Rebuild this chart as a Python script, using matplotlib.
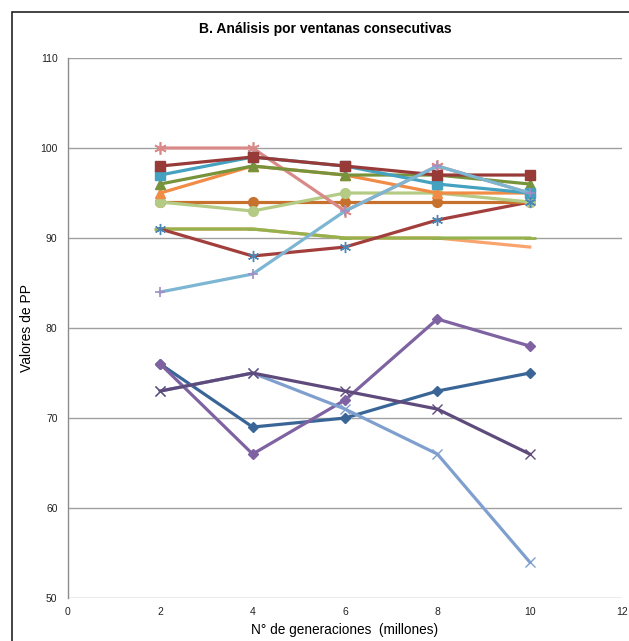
import matplotlib
matplotlib.use("Agg")
import matplotlib.pyplot as plt
from matplotlib.patches import Rectangle

plt.rcParams['font.family'] = ['Liberation Sans', 'DejaVu Sans']

generaciones = [2, 4, 6, 8, 10]

# PP values per run window
serie_azul_osc = [76, 69, 70, 73, 75]
serie_morado = [76, 66, 72, 81, 78]
serie_morado_osc = [73, 75, 73, 71, 66]
serie_azul_claro_x = [73, 75, 71, 66, 54]
serie_rosa = [100, 100, 93, 98, 95]
serie_rojo_cuad = [98, 99, 98, 97, 97]
serie_turquesa = [97, 99, 98, 96, 95]
serie_oliva = [96, 98, 97, 97, 96]
serie_naranja = [95, 98, 97, 95, 95]
serie_marron = [94, 94, 94, 94, 94]
serie_verde_claro = [94, 93, 95, 95, 94]
serie_naranja_claro = [91, 91, 90, 90, 89]
serie_verde = [91, 91, 90, 90, 90]
serie_rojo = [91, 88, 89, 92, 94]
serie_celeste = [84, 86, 93, 98, 95]

ast = (6, 2, 0)

fig = plt.figure(figsize=(6.29, 6.41), dpi=100)
ax = fig.add_axes([0.108, 0.067, 0.881, 0.8425])

lw = 2.3
ms = 6.5

def linea(vals, color, marker=None, mfc=None, mec=None, size=ms, mew=1.0, z=2):
    ax.plot(generaciones, vals, color=color, lw=lw, marker=marker,
            markersize=size, markerfacecolor=mfc or color,
            markeredgecolor=mec or color, markeredgewidth=mew, zorder=z,
            solid_joinstyle='round')

linea(serie_azul_osc, '#3A6597', 'D', size=5.5)
linea(serie_morado, '#7E62A1', 'D', size=5.5)
linea(serie_azul_claro_x, '#7F9FCF', 'x', size=7)
linea(serie_morado_osc, '#5F4A7C', 'x', size=7)

linea(serie_naranja_claro, '#F9A46E', None)
linea(serie_verde, '#95B24F', '_', size=8, mew=2)
linea(serie_rojo, '#A23F3C', None)
ax.plot(generaciones, serie_rojo, linestyle='none', marker=ast, markersize=8,
        markeredgecolor='#4C85B5', markeredgewidth=1.0, zorder=3)
linea(serie_marron, '#C6722E', 'o', size=7)
linea(serie_verde_claro, '#B3CB84', 'o', size=7)
linea(serie_rosa, '#D98A88', ast, size=9, mew=1.2)
linea(serie_naranja, '#F08C46', '^', size=7)
linea(serie_oliva, '#77933C', '^', size=7)
linea(serie_turquesa, '#45A1C0', 's', size=7)
linea(serie_rojo_cuad, '#983A38', 's', size=7)
linea(serie_celeste, '#7DB6D2', '+', mec='#A48CC4', size=7, mew=1.2)

ax.set_xlim(0, 12)
ax.set_ylim(50, 110)
ax.set_xticks(range(0, 13, 2))
ax.set_yticks(range(50, 111, 10))
ax.tick_params(axis='both', length=0, labelsize=7.5, colors='#222222')
ax.tick_params(axis='x', pad=6.5)
ax.tick_params(axis='y', pad=7.5)
ax.yaxis.grid(True, color='#A0A0A0', linewidth=1.0)
ax.set_axisbelow(True)
for s in ['top', 'right', 'bottom']:
    ax.spines[s].set_visible(False)
ax.spines['left'].set_color('#8C8C8C')
ax.spines['left'].set_linewidth(1.0)

ax.set_xlabel('N° de generaciones  (millones)', fontsize=9.8)
ax.xaxis.set_label_coords(0.5, -0.047)
ax.set_ylabel('Valores de PP', fontsize=10)
ax.yaxis.set_label_coords(-0.061, 0.5)
fig.text(0.517, 0.955, 'B. Análisis por ventanas consecutivas',
         ha='center', va='center', fontsize=10, fontweight='bold')

fig.patches.append(Rectangle((12 / 629, -0.05), 1.0, 1 - 12 / 641 + 0.05,
                             transform=fig.transFigure, fill=False,
                             edgecolor='#222222', linewidth=1.2))

fig.savefig('out.png', dpi=100)
